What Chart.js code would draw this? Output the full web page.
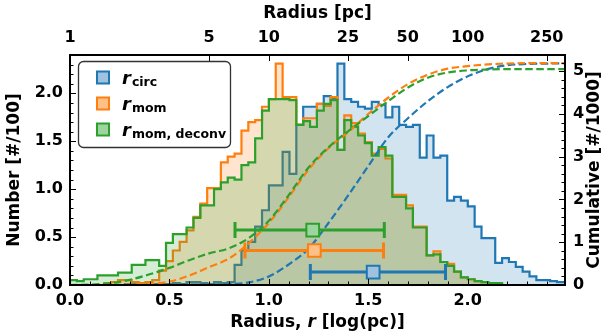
<!DOCTYPE html>
<html>
<head>
<meta charset="utf-8">
<script src="https://cdn.jsdelivr.net/npm/chart.js@4.4.0/dist/chart.umd.min.js"></script>
<style>
  html, body { margin: 0; padding: 0; background: #fff; }
  #wrap { width: 605px; height: 336px; }
</style>
</head>
<body>
<div id="wrap"><canvas id="chart" width="605" height="336"></canvas></div>
<script>
// size distributions in log(pc), histogram counts in units of 100 clouds
const binEdges = Array.from({ length: 74 }, (_, i) => +(i * 0.0345).toFixed(4));

const circCounts = [
  0, 0, 0, 0, 0, 0, 0, 0, 0,
  0.01, 0.01, 0, 0.01, 0.01, 0.01, 0.01, 0.02, 0.01, 0.03, 0.03, 0.02, 0.01, 0.03, 0.02, 0.03,
  0.21, 0.36, 0.45, 0.61, 0.78, 1.04, 1.04, 1.39, 1.16, 1.67,
  1.86, 1.86, 1.89, 1.97, 1.94, 2.31, 1.94, 1.91, 1.86, 1.84,
  1.91, 1.88, 1.75, 1.86, 1.67, 1.65, 1.67, 1.33, 1.56, 1.33,
  1.35, 0.88, 0.92, 0.88, 0.82, 0.61, 0.49, 0.49, 0.23, 0.28,
  0.24, 0.19, 0.14, 0.09, 0.05, 0.05, 0.04, 0.03
];
const momCounts = [
  0, 0, 0, 0, 0, 0,
  0.02, 0.03, 0.05, 0.05, 0.03, 0.02, 0.03, 0.05, 0.15,
  0.25, 0.36, 0.45, 0.57, 0.71, 0.85, 1.01, 1.01, 1.28, 1.34,
  1.37, 1.61, 1.70, 1.72, 1.86, 1.94, 2.31, 1.96, 1.96, 1.67,
  1.74, 1.74, 1.89, 1.87, 1.96, 1.41, 1.77, 1.69, 1.58, 1.49,
  1.37, 1.42, 1.32, 0.94, 0.94, 0.83, 0.61, 0.61, 0.31, 0.35,
  0.24, 0.22, 0.14, 0.08, 0.06, 0.04, 0.03, 0.02, 0.01, 0,
  0, 0, 0, 0, 0, 0, 0, 0
];
const deconvCounts = [
  0.05, 0.05, 0.04, 0.06, 0.06, 0.10, 0.10, 0.10, 0.13, 0.13,
  0.21, 0.21, 0.26, 0.26, 0.20, 0.44, 0.53, 0.53, 0.60, 0.70,
  0.83, 0.83, 1.00, 1.07, 1.12, 1.10, 1.25, 1.28, 1.53, 1.82,
  1.94, 1.94, 1.94, 1.93, 1.67, 1.71, 1.65, 1.82, 1.89, 1.93,
  1.41, 1.72, 1.65, 1.56, 1.48, 1.35, 1.44, 1.35, 0.92, 0.92,
  0.80, 0.60, 0.60, 0.31, 0.32, 0.24, 0.20, 0.14, 0.08, 0.06,
  0.04, 0.03, 0.02, 0.02, 0,
  0, 0, 0, 0, 0, 0, 0, 0
];

// cumulative counts in units of 1000 clouds
const cumX = [0.0, 0.1, 0.2, 0.3, 0.4, 0.5, 0.6, 0.7, 0.8, 0.9, 1.0, 1.1, 1.2,
              1.3, 1.4, 1.5, 1.6, 1.7, 1.8, 1.9, 2.0, 2.1, 2.2, 2.3, 2.4, 2.5];
const cumCirc = [0, 0, 0, 0, 0, 0, 0.01, 0.01, 0.02, 0.06, 0.20, 0.48, 0.85,
                 1.45, 2.10, 2.78, 3.45, 3.90, 4.30, 4.63, 4.88, 5.05, 5.14, 5.17, 5.18, 5.19];
const cumMom = [0, 0, 0, 0.01, 0.03, 0.08, 0.22, 0.42, 0.62, 0.98, 1.45, 2.05, 2.70,
                3.20, 3.58, 4.00, 4.38, 4.70, 4.92, 5.06, 5.12, 5.16, 5.18, 5.19, 5.19, 5.19];
const cumDeconv = [0, 0.01, 0.04, 0.12, 0.25, 0.40, 0.58, 0.74, 0.86, 1.10, 1.50, 2.10, 2.75,
                   3.22, 3.60, 3.95, 4.30, 4.62, 4.85, 4.97, 5.02, 5.04, 5.05, 5.05, 5.05, 5.05];

// median and spread of each distribution
const errMid = [1.525, 1.229, 1.221];
const errLow = [1.209, 0.880, 0.830];
const errHigh = [1.889, 1.577, 1.581];
const errLevel = [0.135, 0.36, 0.573];

// top axis in linear parsecs
const pcTicks = [1, 5, 10, 25, 50, 100, 250];

const BLUE = '#1f77b4', ORANGE = '#ff7f0e', GREEN = '#2ca02c';
const colors = [BLUE, ORANGE, GREEN];
const lightColors = ['#9fc3de', '#ffc088', '#9ed49e'];
const subLabels = ['circ', 'mom', 'mom, deconv'];
const FONT = '"DejaVu Sans", sans-serif';

function stepPoints(vals) {
  const pts = [{ x: binEdges[0], y: 0 }];
  vals.forEach((v, i) => pts.push({ x: binEdges[i], y: v }));
  pts.push({ x: binEdges[vals.length], y: vals[vals.length - 1] });
  pts.push({ x: binEdges[vals.length], y: 0 });
  return pts;
}

function histDataset(vals, color, fillColor) {
  return {
    type: 'line',
    data: stepPoints(vals),
    stepped: 'after',
    borderColor: color,
    backgroundColor: fillColor,
    borderWidth: 2.2,
    borderJoinStyle: 'miter',
    fill: 'origin',
    pointRadius: 0,
    xAxisID: 'x',
    yAxisID: 'y'
  };
}

function cumDataset(vals, color) {
  return {
    type: 'line',
    data: cumX.map((x, i) => ({ x, y: vals[i] })),
    borderColor: color,
    borderWidth: 2.2,
    borderDash: [7.5, 3.5],
    cubicInterpolationMode: 'monotone',
    fill: false,
    pointRadius: 0,
    xAxisID: 'x',
    yAxisID: 'y2'
  };
}

const tickFont = { family: FONT, size: 16, weight: 'bold' };

// whiskers under the median markers
const errorBars = {
  id: 'errorBars',
  beforeDatasetDraw(chart, args) {
    if (args.meta.dataset !== undefined && chart.data.datasets[args.index].label !== 'medians') return;
    if (chart.data.datasets[args.index].label !== 'medians') return;
    const ctx = chart.ctx, xs = chart.scales.x, ys = chart.scales.y;
    ctx.save();
    ctx.lineWidth = 3;
    ctx.lineCap = 'butt';
    errMid.forEach((m, k) => {
      const y = ys.getPixelForValue(errLevel[k]);
      const x1 = xs.getPixelForValue(errLow[k]);
      const x2 = xs.getPixelForValue(errHigh[k]);
      ctx.strokeStyle = colors[k];
      ctx.beginPath();
      ctx.moveTo(x1, y); ctx.lineTo(x2, y);
      ctx.moveTo(x1, y - 8); ctx.lineTo(x1, y + 8);
      ctx.moveTo(x2, y - 8); ctx.lineTo(x2, y + 8);
      ctx.stroke();
    });
    ctx.restore();
  }
};

// frame, inward ticks, axis titles and legend
const decorations = {
  id: 'decorations',
  afterDraw(chart) {
    const ctx = chart.ctx, a = chart.chartArea;
    const xs = chart.scales.x, ys = chart.scales.y, y2 = chart.scales.y2;
    ctx.save();
    ctx.strokeStyle = '#000';
    ctx.lineWidth = 1;
    ctx.beginPath();
    for (let i = 0; i <= 24; i++) {
      const px = Math.round(xs.getPixelForValue(i / 10)) + 0.5;
      const len = i % 5 === 0 ? 6 : 3.5;
      ctx.moveTo(px, a.bottom); ctx.lineTo(px, a.bottom - len);
    }
    pcTicks.forEach(p => {
      const px = Math.round(xs.getPixelForValue(Math.log10(p))) + 0.5;
      ctx.moveTo(px, a.top); ctx.lineTo(px, a.top + 6);
    });
    for (let i = 0; i <= 24; i++) {
      const py = Math.round(ys.getPixelForValue(i / 10)) + 0.5;
      const len = i % 5 === 0 ? 6 : 3.5;
      ctx.moveTo(a.left, py); ctx.lineTo(a.left + len, py);
    }
    for (let i = 0; i <= 26; i++) {
      const py = Math.round(y2.getPixelForValue(i / 5)) + 0.5;
      const len = i % 5 === 0 ? 6 : 3.5;
      ctx.moveTo(a.right, py); ctx.lineTo(a.right - len, py);
    }
    ctx.stroke();

    ctx.lineWidth = 2;
    ctx.strokeRect(a.left, a.top, a.right - a.left, a.bottom - a.top);

    // axis titles
    const cx = (a.left + a.right) / 2, cy = (a.top + a.bottom) / 2;
    ctx.fillStyle = '#000';
    ctx.textBaseline = 'middle';
    ctx.textAlign = 'center';
    ctx.font = 'bold 17px ' + FONT;
    ctx.fillText('Radius [pc]', cx, 14);

    ctx.save();
    ctx.translate(15, cy);
    ctx.rotate(-Math.PI / 2);
    ctx.fillText('Number [#/100]', 0, 0);
    ctx.restore();

    ctx.save();
    ctx.translate(595, cy);
    ctx.rotate(-Math.PI / 2);
    ctx.fillText('Cumulative [#/1000]', 0, 0);
    ctx.restore();

    const parts = [['Radius, ', 'bold 17px '], ['r', 'italic bold 17px '], [' [log(pc)]', 'bold 17px ']];
    let total = 0;
    parts.forEach(p => { ctx.font = p[1] + FONT; total += ctx.measureText(p[0]).width; });
    let tx = cx - total / 2;
    ctx.textAlign = 'left';
    parts.forEach(p => {
      ctx.font = p[1] + FONT;
      ctx.fillText(p[0], tx, 323);
      tx += ctx.measureText(p[0]).width;
    });

    // legend
    const lx = 78.5, ly = 61.5, lw = 152, lh = 86;
    ctx.beginPath();
    ctx.roundRect(lx, ly, lw, lh, 5);
    ctx.fillStyle = 'rgba(255,255,255,0.8)';
    ctx.fill();
    ctx.strokeStyle = '#333';
    ctx.lineWidth = 1.3;
    ctx.stroke();

    subLabels.forEach((s, k) => {
      const my = 77.5 + k * 26;
      ctx.fillStyle = lightColors[k];
      ctx.strokeStyle = colors[k];
      ctx.lineWidth = 2;
      ctx.fillRect(97, my - 6, 12, 12);
      ctx.strokeRect(97, my - 6, 12, 12);
      ctx.fillStyle = '#000';
      ctx.textBaseline = 'alphabetic';
      ctx.font = 'italic bold 18px ' + FONT;
      ctx.fillText('r', 122, my + 6);
      const rw = ctx.measureText('r').width;
      ctx.font = 'bold 12.5px ' + FONT;
      ctx.fillText(s, 122 + rw + 1, my + 8);
    });
    ctx.restore();
  }
};

const chart = new Chart(document.getElementById('chart'), {
  type: 'line',
  data: {
    datasets: [
      {
        type: 'scatter',
        label: 'medians',
        data: errMid.map((m, k) => ({ x: m, y: errLevel[k] })),
        pointStyle: 'rect',
        pointRadius: 9,
        pointBackgroundColor: lightColors,
        pointBorderColor: colors,
        pointBorderWidth: 2,
        xAxisID: 'x',
        yAxisID: 'y'
      },
      cumDataset(cumDeconv, GREEN),
      cumDataset(cumMom, ORANGE),
      cumDataset(cumCirc, BLUE),
      histDataset(deconvCounts, GREEN, 'rgba(44,160,44,0.2)'),
      histDataset(momCounts, ORANGE, 'rgba(255,127,14,0.2)'),
      histDataset(circCounts, BLUE, 'rgba(31,119,180,0.2)')
    ]
  },
  options: {
    responsive: false,
    animation: false,
    devicePixelRatio: 1,
    layout: { padding: 0 },
    plugins: { legend: { display: false }, tooltip: { enabled: false } },
    scales: {
      x: {
        type: 'linear', position: 'bottom', min: 0, max: 2.49,
        afterFit: s => { s.height = 51; },
        grid: { display: false, drawTicks: false },
        border: { display: false },
        ticks: {
          stepSize: 0.5, includeBounds: false, padding: 6, autoSkip: false, maxRotation: 0,
          color: '#000', font: tickFont, callback: v => v.toFixed(1)
        }
      },
      xTop: {
        type: 'linear', position: 'top', min: 0, max: 2.49,
        afterFit: s => { s.height = 55; },
        afterBuildTicks: s => { s.ticks = pcTicks.map(p => ({ value: Math.log10(p) })); },
        grid: { display: false, drawTicks: false },
        border: { display: false },
        ticks: {
          padding: 8, autoSkip: false, maxRotation: 0,
          color: '#000', font: tickFont, callback: (v, i) => String(pcTicks[i])
        }
      },
      y: {
        type: 'linear', position: 'left', min: 0, max: 2.4,
        afterFit: s => { s.width = 70; },
        grid: { display: false, drawTicks: false },
        border: { display: false },
        ticks: {
          stepSize: 0.5, includeBounds: false, padding: 7,
          color: '#000', font: tickFont, callback: v => v.toFixed(1)
        }
      },
      y2: {
        type: 'linear', position: 'right', min: 0, max: 5.38,
        afterFit: s => { s.width = 40; },
        grid: { display: false, drawTicks: false },
        border: { display: false },
        ticks: {
          stepSize: 1, includeBounds: false, padding: 8,
          color: '#000', font: tickFont, callback: v => String(v)
        }
      }
    }
  },
  plugins: [errorBars, decorations]
});
</script>
</body>
</html>
